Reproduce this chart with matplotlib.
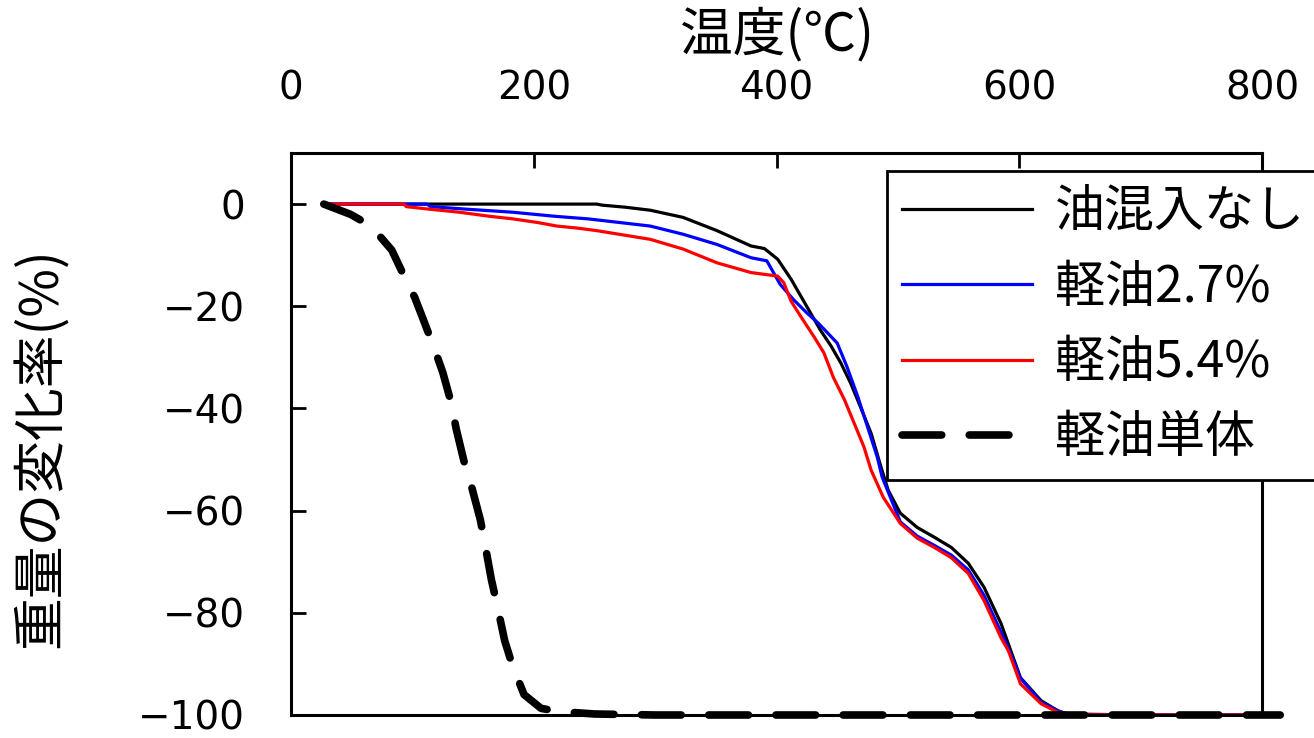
import matplotlib
matplotlib.use("Agg")
import matplotlib.pyplot as plt

plt.rcParams['font.family'] = ['Noto Sans CJK JP', 'DejaVu Sans']

# 油混入なし
base_x = [30, 252, 256, 275, 296, 323, 351, 379, 390, 401, 412, 420, 428, 436, 445, 453, 461,
          469, 478, 486, 492, 502, 516, 530, 544, 558, 571, 585, 593, 601, 618, 632, 640, 700, 815]
base_y = [0, 0, -0.2, -0.6, -1.2, -2.6, -5.2, -8.2, -8.7, -10.8, -14.7, -18.0, -21.3, -24.6, -27.8,
          -31.1, -35.0, -39.6, -44.9, -51.4, -56.0, -60.5, -63.3, -65.2, -67.2, -70.3, -75.0, -82.1,
          -87.4, -92.7, -97.2, -99.2, -99.8, -100, -100]

# 軽油2.7%
d27_x = [30, 112, 115, 145, 183, 218, 245, 296, 323, 351, 379, 392, 403, 414, 425, 434, 442, 450,
         458, 467, 475, 483, 487, 502, 516, 530, 544, 558, 571, 585, 593, 601, 618, 634, 642, 815]
d27_y = [0, 0, -0.5, -1.0, -1.6, -2.4, -2.9, -4.3, -5.9, -7.9, -10.5, -11.1, -15.7, -18.7, -21.3,
         -23.2, -25.2, -27.2, -31.8, -37.7, -43.6, -49.5, -53.4, -62.2, -65.0, -66.8, -68.7, -71.6,
         -76.6, -83.8, -88.0, -92.8, -97.5, -99.4, -100, -100]

# 軽油5.4%
d54_x = [30, 93, 95, 114, 139, 164, 183, 203, 219, 236, 252, 296, 323, 351, 379, 401, 406, 412,
         420, 431, 439, 447, 456, 464, 472, 478, 488, 502, 516, 530, 544, 558, 571, 585, 591, 601,
         618, 632, 640, 650, 815]
d54_y = [0, 0, -0.5, -1.0, -1.6, -2.4, -2.9, -3.6, -4.3, -4.7, -5.2, -6.9, -8.8, -11.5, -13.4,
         -14.1, -15.4, -19.0, -22.0, -26.0, -29.1, -34.0, -38.3, -42.9, -47.5, -52.1, -57.4, -62.5,
         -65.4, -67.2, -69.2, -72.3, -77.6, -84.9, -87.4, -93.9, -97.8, -99.5, -99.8, -100, -100]

# 軽油単体
diesel_x = [27, 49, 66, 83, 91, 102, 109, 118, 125, 132, 136, 143, 149, 156, 160, 165, 170, 176,
            182, 192, 206, 220, 250, 300, 815]
diesel_y = [0, -2.0, -4.3, -9.0, -13.0, -18.3, -22.6, -28.2, -32.9, -38.9, -43.9, -50.8, -55.5,
            -61.8, -66.8, -73.4, -78.7, -85.4, -90.0, -96.0, -98.7, -99.3, -99.8, -100, -100]

labels = ['油混入なし', '軽油2.7%', '軽油5.4%', '軽油単体']
xticks = [0, 200, 400, 600, 800]
yticks = [0, -20, -40, -60, -80, -100]

fig = plt.figure(figsize=(13.14, 7.38), dpi=100)
ax = fig.add_axes([291 / 1314, 1 - 715 / 738, (1262 - 291) / 1314, (715 - 153) / 738])

ax.plot(base_x, base_y, color='black', lw=2.3, clip_on=False, label=labels[0])
ax.plot(d27_x, d27_y, color='blue', lw=2.3, clip_on=False, label=labels[1])
ax.plot(d54_x, d54_y, color='red', lw=2.3, clip_on=False, label=labels[2])
ax.plot(diesel_x, diesel_y, color='black', lw=5.5, dashes=(5.2, 3.6),
        dash_capstyle='round', clip_on=False, label=labels[3])

ax.set_xlim(0, 800)
ax.set_ylim(-100, 10)
ax.set_xticks(xticks)
ax.set_yticks(yticks)
ax.xaxis.tick_top()
ax.tick_params(axis='both', direction='in', length=11, width=2, pad=33, labelsize=28)
ax.tick_params(axis='x', top=True, bottom=False)
for lab in ax.get_xticklabels() + ax.get_yticklabels():
    lab.set_fontfamily('DejaVu Sans')
for sp in ax.spines.values():
    sp.set_linewidth(2.2)

ax.xaxis.set_label_position('top')
ax.set_xlabel('温度(℃)', fontsize=38)
ax.xaxis.set_label_coords(0.5, 1.182)
ax.set_ylabel('重量の変化率(%)', fontsize=38)
ax.yaxis.set_label_coords(-0.229, 0.475)

leg = ax.legend(loc='upper left', bbox_to_anchor=(887 / 1314, 1 - 171 / 738),
                bbox_transform=fig.transFigure, borderaxespad=0, fontsize=36,
                frameon=True, fancybox=False, framealpha=1, edgecolor='black',
                handlelength=2.6, handletextpad=0.46, borderpad=0.3, labelspacing=0.47)
leg.get_frame().set_linewidth(2)

fig.savefig('out.png', dpi=100)
